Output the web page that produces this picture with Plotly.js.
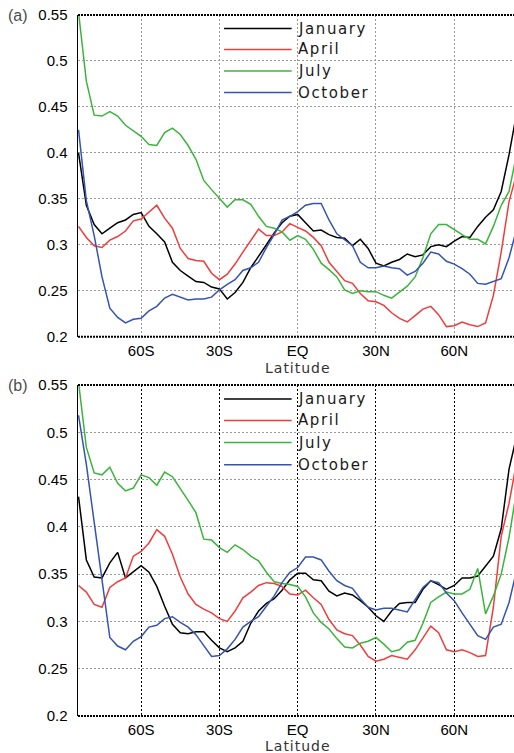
<!DOCTYPE html>
<html>
<head>
<meta charset="utf-8">
<script src="https://cdn.plot.ly/plotly-3.0.1.min.js"></script>
<style>
  html, body { margin: 0; padding: 0; background: #ffffff; }
  #chart { width: 514px; height: 753px; }
</style>
</head>
<body>
<div id="chart"></div>
<script>
// Latitude grid (degrees, south negative)
const latitude = [
  -84, -81, -78, -75, -72, -69, -66, -63, -60,
  -57, -54, -51, -48, -45, -42, -39, -36, -33,
  -30, -27, -24, -21, -18, -15, -12, -9, -6,
  -3, 0, 3, 6, 9, 12, 15, 18, 21,
  24, 27, 30, 33, 36, 39, 42, 45, 48,
  51, 54, 57, 60, 63, 66, 69, 72, 75,
  78, 81, 84
];

// Panel (a)
const janA = [
  0.400, 0.343, 0.322, 0.312, 0.318, 0.324, 0.327, 0.333, 0.335,
  0.320, 0.312, 0.303, 0.281, 0.272, 0.266, 0.260, 0.259, 0.254,
  0.252, 0.241, 0.248, 0.259, 0.275, 0.287, 0.300, 0.313, 0.324,
  0.331, 0.333, 0.324, 0.315, 0.316, 0.311, 0.308, 0.307, 0.299,
  0.306, 0.296, 0.280, 0.277, 0.281, 0.284, 0.290, 0.287, 0.289,
  0.298, 0.300, 0.298, 0.304, 0.309, 0.308, 0.320, 0.330, 0.338,
  0.358, 0.398, 0.445
];
const aprA = [
  0.320, 0.308, 0.299, 0.297, 0.305, 0.309, 0.315, 0.326, 0.328,
  0.336, 0.343, 0.329, 0.318, 0.296, 0.285, 0.283, 0.282, 0.269,
  0.262, 0.268, 0.279, 0.292, 0.305, 0.317, 0.310, 0.310, 0.314,
  0.323, 0.319, 0.315, 0.308, 0.299, 0.281, 0.271, 0.261, 0.258,
  0.247, 0.239, 0.238, 0.234, 0.226, 0.220, 0.216, 0.223, 0.230,
  0.233, 0.224, 0.211, 0.212, 0.216, 0.213, 0.211, 0.215, 0.245,
  0.292, 0.347, 0.378
];
const julA = [
  0.553, 0.478, 0.441, 0.440, 0.445, 0.440, 0.430, 0.424, 0.418,
  0.409, 0.408, 0.422, 0.427, 0.420, 0.408, 0.393, 0.370, 0.360,
  0.350, 0.341, 0.349, 0.349, 0.344, 0.331, 0.320, 0.318, 0.314,
  0.305, 0.310, 0.306, 0.295, 0.280, 0.273, 0.265, 0.251, 0.247,
  0.250, 0.249, 0.249, 0.245, 0.242, 0.248, 0.255, 0.265, 0.286,
  0.312, 0.322, 0.322, 0.316, 0.311, 0.306, 0.306, 0.301, 0.320,
  0.343, 0.358, 0.400
];
const octA = [
  0.425, 0.348, 0.310, 0.265, 0.231, 0.221, 0.215, 0.219, 0.220,
  0.228, 0.233, 0.242, 0.246, 0.243, 0.240, 0.241, 0.241, 0.243,
  0.251, 0.257, 0.262, 0.272, 0.275, 0.281, 0.297, 0.311, 0.327,
  0.331, 0.336, 0.343, 0.345, 0.345, 0.327, 0.312, 0.305, 0.299,
  0.281, 0.275, 0.275, 0.277, 0.275, 0.274, 0.267, 0.271, 0.280,
  0.292, 0.290, 0.282, 0.279, 0.274, 0.268, 0.258, 0.257, 0.260,
  0.263, 0.286, 0.318
];

// Panel (b)
const janB = [
  0.432, 0.365, 0.347, 0.346, 0.362, 0.373, 0.346, 0.353, 0.359,
  0.352, 0.337, 0.316, 0.297, 0.288, 0.287, 0.289, 0.289, 0.280,
  0.272, 0.268, 0.272, 0.279, 0.298, 0.311, 0.319, 0.324, 0.333,
  0.344, 0.351, 0.351, 0.344, 0.343, 0.332, 0.327, 0.330, 0.328,
  0.322, 0.315, 0.306, 0.300, 0.311, 0.319, 0.320, 0.320, 0.334,
  0.343, 0.339, 0.334, 0.338, 0.346, 0.346, 0.348, 0.358, 0.369,
  0.398, 0.461, 0.497
];
const aprB = [
  0.338, 0.331, 0.318, 0.315, 0.336, 0.342, 0.346, 0.369, 0.374,
  0.383, 0.397, 0.390, 0.371, 0.347, 0.329, 0.318, 0.313, 0.309,
  0.303, 0.300, 0.311, 0.325, 0.331, 0.338, 0.341, 0.340, 0.337,
  0.329, 0.328, 0.333, 0.325, 0.318, 0.302, 0.291, 0.287, 0.285,
  0.275, 0.263, 0.258, 0.260, 0.264, 0.262, 0.260, 0.270, 0.283,
  0.295, 0.288, 0.270, 0.268, 0.270, 0.267, 0.263, 0.264, 0.315,
  0.390, 0.425, 0.470
];
const julB = [
  0.553, 0.484, 0.457, 0.455, 0.463, 0.446, 0.438, 0.441, 0.455,
  0.452, 0.444, 0.458, 0.453, 0.441, 0.428, 0.415, 0.387, 0.386,
  0.378, 0.373, 0.381, 0.376, 0.369, 0.364, 0.352, 0.342, 0.340,
  0.339, 0.337, 0.326, 0.309, 0.299, 0.292, 0.282, 0.273, 0.272,
  0.277, 0.279, 0.283, 0.276, 0.268, 0.270, 0.278, 0.280, 0.298,
  0.320, 0.326, 0.331, 0.329, 0.329, 0.334, 0.356, 0.308, 0.327,
  0.350, 0.389, 0.440
];
const octB = [
  0.518, 0.466, 0.405, 0.345, 0.283, 0.274, 0.270, 0.279, 0.284,
  0.294, 0.296, 0.303, 0.305, 0.299, 0.294, 0.286, 0.275, 0.263,
  0.264, 0.271, 0.281, 0.294, 0.300, 0.305, 0.316, 0.327, 0.341,
  0.352, 0.357, 0.368, 0.368, 0.365, 0.353, 0.343, 0.338, 0.335,
  0.324, 0.315, 0.312, 0.314, 0.314, 0.312, 0.310, 0.323, 0.336,
  0.343, 0.341, 0.330, 0.322, 0.309, 0.297, 0.285, 0.281, 0.294,
  0.297, 0.320, 0.355
];

const months = ['January', 'April', 'July', 'October'];
const latTickVals = [-60, -30, 0, 30, 60];
const latTickText = ['60S', '30S', 'EQ', '30N', '60N'];
const valTickVals = [0.2, 0.25, 0.3, 0.35, 0.4, 0.45, 0.5, 0.55];
const valTickText = ['0.2', '0.25', '0.3', '0.35', '0.4', '0.45', '0.5', '0.55'];
const panelLabels = ['(a)', '(b)'];

const lineColors = ['#000000', '#f03c3c', '#3cb43c', '#3553b0'];
const tickFont = { family: 'Liberation Sans, Arial, sans-serif', size: 15, color: '#000000' };
const wideFont = { family: 'DejaVu Sans, sans-serif', size: 15, color: '#1a1a1a' };

const panels = [
  { series: [janA, aprA, julA, octA], xa: 'x', ya: 'y', vgrid: '#9a9a9a' },
  { series: [janB, aprB, julB, octB], xa: 'x2', ya: 'y2', vgrid: '#000000' }
];

const traces = [];
panels.forEach(p => {
  p.series.forEach((vals, i) => {
    traces.push({
      type: 'scatter', mode: 'lines',
      x: latitude, y: vals, name: months[i],
      xaxis: p.xa, yaxis: p.ya,
      line: { color: lineColors[i], width: 1.5 },
      showlegend: false, hoverinfo: 'skip'
    });
  });
});

function latAxis(anchor, gridColor) {
  return {
    anchor: anchor, range: [-84.2, 82.9],
    tickmode: 'array', tickvals: latTickVals, ticktext: latTickText,
    showgrid: true, gridcolor: gridColor, gridwidth: 1, griddash: '2px,2px',
    zeroline: false, showline: false, ticks: '', ticklabelstandoff: 3,
    tickfont: tickFont, fixedrange: true
  };
}
function valAxis(anchor, domain) {
  return {
    anchor: anchor, domain: domain, range: [0.2, 0.55],
    tickmode: 'array', tickvals: valTickVals, ticktext: valTickText,
    showgrid: true, gridcolor: '#9a9a9a', gridwidth: 1, griddash: '2px,2px',
    zeroline: false, showline: true, linecolor: '#000000', linewidth: 1.5,
    ticks: '', ticklabelstandoff: 6, tickfont: tickFont, fixedrange: true
  };
}

const shapes = [];
const annotations = [];
const legendRows = [0.958, 0.893, 0.826, 0.759];

panels.forEach((p, k) => {
  const xd = p.xa + ' domain';
  const yd = p.ya + ' domain';
  // dotted top and bottom frame
  [0, 1].forEach(yy => {
    shapes.push({
      type: 'line', xref: xd, yref: yd, x0: 0, x1: 1, y0: yy, y1: yy,
      line: { color: '#000000', width: 2, dash: '2px,1px' }
    });
  });
  // in-plot key
  months.forEach((m, i) => {
    shapes.push({
      type: 'line', xref: xd, yref: yd,
      x0: 0.335, x1: 0.49, y0: legendRows[i], y1: legendRows[i],
      line: { color: lineColors[i], width: 1.5 }
    });
    annotations.push({
      xref: xd, yref: yd, x: 0.499, y: legendRows[i],
      xanchor: 'left', yanchor: 'middle', showarrow: false,
      text: '<span style="letter-spacing:1.6px">' + m + '</span>',
      font: wideFont
    });
  });
  annotations.push({
    xref: xd, yref: yd, x: 0.504, y: k === 0 ? -0.097 : -0.092,
    xanchor: 'center', yanchor: 'middle', showarrow: false,
    text: '<span style="letter-spacing:1px">Latitude</span>',
    font: { family: 'DejaVu Sans, sans-serif', size: 14, color: '#333333' }
  });
  annotations.push({
    xref: xd, yref: yd, x: -0.1376, y: 0.997,
    xanchor: 'center', yanchor: 'middle', showarrow: false,
    text: panelLabels[k],
    font: { family: 'Liberation Sans, Arial, sans-serif', size: 16, color: '#4d4d4d' }
  });
});

const layout = {
  width: 514, height: 753,
  margin: { l: 78, r: 0, t: 15, b: 37, autoexpand: false },
  paper_bgcolor: '#ffffff', plot_bgcolor: '#ffffff',
  showlegend: false,
  xaxis: latAxis('y', panels[0].vgrid),
  yaxis: valAxis('x', [0.5411, 1]),
  xaxis2: latAxis('y2', panels[1].vgrid),
  yaxis2: valAxis('x2', [0, 0.4722]),
  shapes: shapes,
  annotations: annotations
};

Plotly.newPlot('chart', traces, layout, { staticPlot: true, displayModeBar: false });
</script>
</body>
</html>
